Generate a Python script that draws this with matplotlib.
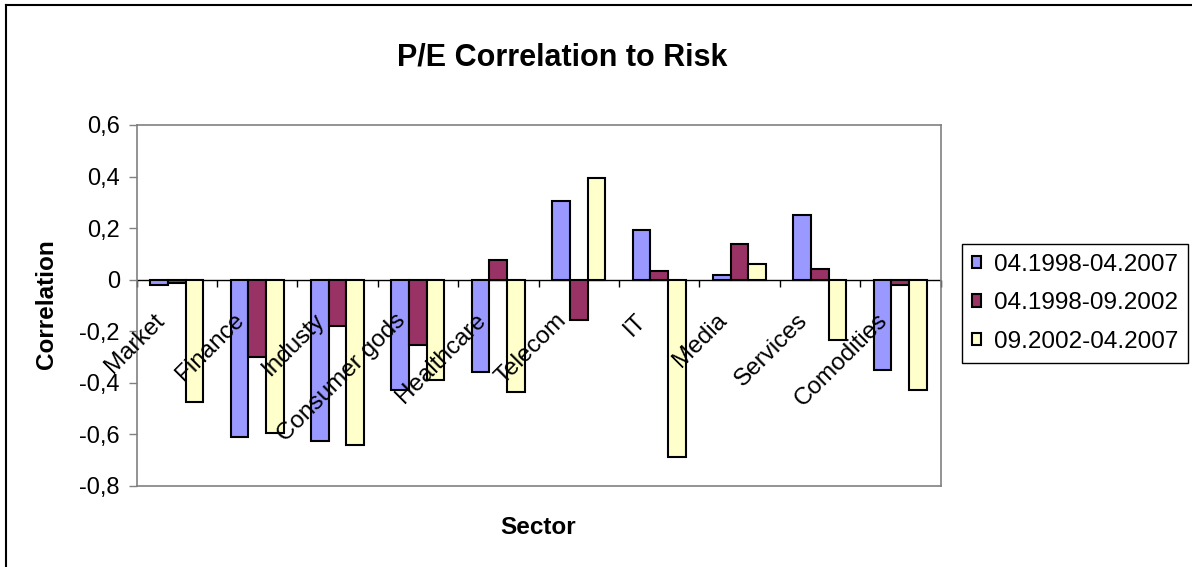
import numpy as np
import matplotlib
matplotlib.use("Agg")
import matplotlib.pyplot as plt
import matplotlib.transforms as mtransforms
from matplotlib.lines import Line2D

plt.rcParams['font.family'] = ['Liberation Sans', 'DejaVu Sans']

# Sector correlations of P/E to risk, three time windows
sectors = ['Market', 'Finance', 'Industy', 'Consumer gods', 'Healthcare',
           'Telecom', 'IT', 'Media', 'Services', 'Comodities']
full_period = [-0.02, -0.61, -0.625, -0.427, -0.36, 0.304, 0.191, 0.018, 0.252, -0.352]
first_half = [-0.013, -0.302, -0.181, -0.255, 0.077, -0.158, 0.032, 0.138, 0.040, -0.02]
second_half = [-0.476, -0.596, -0.641, -0.391, -0.437, 0.394, -0.687, 0.062, -0.233, -0.427]
series_names = ['04.1998-04.2007', '04.1998-09.2002', '09.2002-04.2007']

y_ticks = [0.6, 0.4, 0.2, 0.0, -0.2, -0.4, -0.6, -0.8]
y_tick_labels = ['0,6', '0,4', '0,2', '0', '-0,2', '-0,4', '-0,6', '-0,8']

colors = ['#9999FF', '#993366', '#FFFFCC']

W, H = 1192, 567
fig = plt.figure(figsize=(W / 100, H / 100), dpi=100, facecolor='white')
ax = fig.add_axes([136.5 / W, 1 - 485.7 / H, (940.5 - 136.5) / W, (485.7 - 125) / H])

x = np.arange(len(sectors))
bw = 0.22
bars = []
for k, (vals, c, name) in enumerate(zip([full_period, first_half, second_half], colors, series_names)):
    b = ax.bar(x + (k - 1) * bw, vals, width=bw, color=c, edgecolor='black',
               linewidth=1.5, label=name, zorder=3)
    bars.append(b)

ax.set_xlim(-0.5, len(sectors) - 0.5)
ax.set_ylim(-0.8, 0.6)

# zero line with category dividers hanging below it
ax.axhline(0, color='black', lw=1, zorder=2)
bounds = np.arange(len(sectors) + 1) - 0.5
ax.plot(bounds, np.zeros_like(bounds), ls='none', marker=3, ms=5, mew=1,
        color='black', zorder=2, clip_on=False)

ax.set_xticks([])
ax.set_yticks(y_ticks)
ax.set_yticklabels(y_tick_labels, fontsize=17)
ax.tick_params(axis='y', direction='out', length=6, width=1, color='#808080', pad=6)
for s in ax.spines.values():
    s.set_color('#808080')
    s.set_linewidth(1.2)

# rotated category labels just under the zero line
lab_tr = mtransforms.offset_copy(ax.transData, fig=fig, x=-16, y=-37.5, units='dots')
for i, name in enumerate(sectors):
    ax.text(i, 0, name, transform=lab_tr, rotation=45, rotation_mode='anchor',
            ha='right', va='center', fontsize=17.5, zorder=4)

fig.text(562 / W, 1 - 58 / H, 'P/E Correlation to Risk', ha='center', va='center',
         fontsize=22, fontweight='bold')
fig.text(538 / W, 1 - 528 / H, 'Sector', ha='center', va='center',
         fontsize=17.5, fontweight='bold')
fig.text(46 / W, 1 - 304 / H, 'Correlation', ha='center', va='center',
         rotation=90, fontsize=17.5, fontweight='bold')

leg = fig.legend(handles=bars, labels=series_names, loc='upper left',
                 bbox_to_anchor=(962 / W, 1 - 244 / H), borderaxespad=0,
                 fontsize=17.5, frameon=True, fancybox=False, framealpha=1,
                 edgecolor='black', handlelength=0.4, handleheight=0.4,
                 handletextpad=0.5, labelspacing=0.68, borderpad=0.4)
leg.get_frame().set_linewidth(1)

# outer chart border (top and left)
fig.add_artist(Line2D([6 / W, 6 / W], [0, 1 - 5 / H], transform=fig.transFigure,
                      color='black', lw=1.5))
fig.add_artist(Line2D([6 / W, 1], [1 - 5 / H, 1 - 5 / H], transform=fig.transFigure,
                      color='black', lw=1.5))

fig.savefig('out.png', dpi=100, facecolor='white')
